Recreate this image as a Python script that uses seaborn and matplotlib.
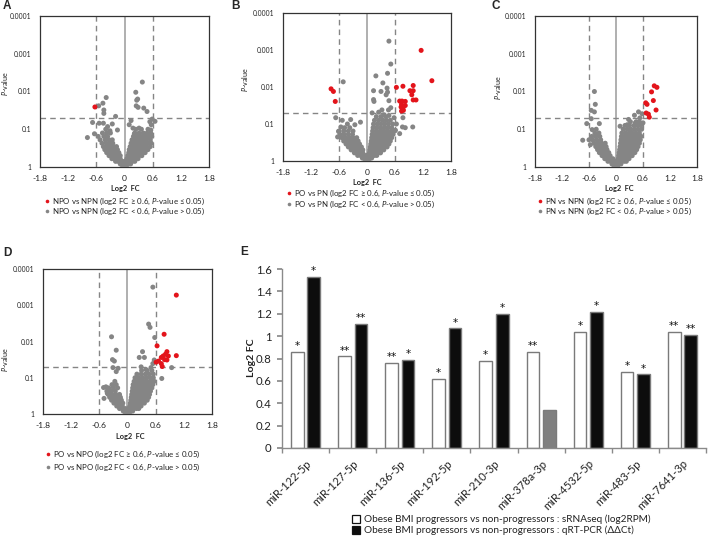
import numpy as np
import pandas as pd
import matplotlib
matplotlib.use("Agg")
import matplotlib.pyplot as plt
import seaborn as sns
from matplotlib.lines import Line2D
from matplotlib.ticker import NullLocator, FixedLocator
from matplotlib.transforms import ScaledTranslation

sns.set_theme(style="white")
plt.rcParams["font.family"] = ["Lato", "DejaVu Sans"]
plt.rcParams["mathtext.fontset"] = "custom"
plt.rcParams["mathtext.it"] = "Lato:italic"
plt.rcParams["mathtext.rm"] = "Lato"
plt.rcParams["mathtext.bf"] = "Lato:bold"

W, H = 709, 543
GRAY = "#858585"
RED = "#e3141b"

# ---------------- volcano data (log2 FC, -log10 P) ----------------
# Panel A : NPO vs NPN
a_levels = [0.02, 0.08, 0.15, 0.22, 0.30, 0.38, 0.46, 0.54, 0.63, 0.72, 0.81, 0.90, 1.00]
a_rows = [
    [-0.04, 0.0, 0.04],
    [-0.09, -0.04, 0.0, 0.04, 0.09, 0.13],
    [-0.19, -0.14, -0.09, -0.04, 0.02, 0.07, 0.12, 0.17, 0.22],
    [-0.27, -0.21, -0.15, -0.09, 0.05, 0.11, 0.17, 0.23, 0.29],
    [-0.33, -0.27, -0.21, -0.15, -0.09, 0.07, 0.13, 0.19, 0.25, 0.31, 0.37],
    [-0.38, -0.31, -0.25, -0.18, -0.12, 0.09, 0.15, 0.21, 0.27, 0.33, 0.39, 0.44],
    [-0.42, -0.35, -0.28, -0.21, -0.15, 0.10, 0.17, 0.23, 0.30, 0.36, 0.42, 0.50],
    [-0.45, -0.37, -0.30, -0.23, -0.17, 0.12, 0.19, 0.26, 0.33, 0.40, 0.47, 0.55],
    [-0.48, -0.39, -0.31, -0.25, 0.14, 0.21, 0.28, 0.35, 0.42, 0.50, 0.57],
    [-0.52, -0.41, -0.33, -0.26, 0.16, 0.24, 0.31, 0.38, 0.46, 0.55],
    [-0.56, -0.44, -0.36, 0.19, 0.27, 0.35, 0.43, 0.51, 0.58],
    [-0.47, -0.38, -0.30, 0.22, 0.31, 0.40, 0.48, 0.56],
    [-0.40, 0.24, 0.36, 0.50],
]
a_out = [(0.38, 2.25), (0.24, 1.98), (0.28, 1.80), (0.26, 1.77), (0.25, 1.62), (0.29, 1.58),
         (0.41, 1.56), (0.48, 1.47), (-0.39, 1.84), (-0.46, 1.69), (-0.55, 1.62), (-0.44, 1.51),
         (-0.44, 1.42), (-0.19, 1.34), (0.59, 1.27), (0.65, 1.21), (0.54, 1.20), (0.14, 1.23),
         (-0.68, 1.18), (-0.54, 1.16), (-0.45, 1.16), (-0.26, 1.14), (-0.79, 0.78), (-0.64, 0.88),
         (-0.36, 1.07), (-0.31, 0.96), (-0.15, 0.98), (0.10, 1.12), (0.18, 1.03), (0.57, 1.12),
         (0.56, 0.98), (0.49, 0.81), (0.42, 0.72), (0.31, 1.03), (0.21, 0.88)]
a_red = [(-0.63, 1.59)]

# Panel B : PO vs PN
b_levels = [0.02, 0.08, 0.15, 0.22, 0.30, 0.38, 0.46, 0.54, 0.63, 0.72, 0.81, 0.90, 1.00, 1.10, 1.20, 1.25]
b_rows = [
    [-0.04, 0.0, 0.04],
    [-0.10, -0.05, 0.0, 0.05, 0.10],
    [-0.20, -0.14, -0.08, -0.02, 0.04, 0.10, 0.16, 0.21],
    [-0.27, -0.21, -0.15, -0.09, 0.05, 0.11, 0.17, 0.23, 0.29],
    [-0.34, -0.27, -0.21, -0.15, -0.09, 0.06, 0.12, 0.18, 0.24, 0.30, 0.36],
    [-0.40, -0.33, -0.26, -0.19, -0.12, 0.07, 0.13, 0.19, 0.25, 0.31, 0.37, 0.43],
    [-0.45, -0.38, -0.31, -0.24, -0.16, 0.08, 0.14, 0.20, 0.27, 0.33, 0.40, 0.47],
    [-0.50, -0.42, -0.34, -0.27, -0.19, 0.09, 0.15, 0.22, 0.29, 0.36, 0.43, 0.50],
    [-0.54, -0.46, -0.38, -0.30, -0.22, 0.10, 0.17, 0.24, 0.31, 0.38, 0.45, 0.53],
    [-0.58, -0.49, -0.40, -0.31, 0.11, 0.18, 0.26, 0.33, 0.40, 0.48, 0.56],
    [-0.60, -0.50, -0.40, -0.30, 0.12, 0.20, 0.28, 0.36, 0.44, 0.52, 0.59],
    [-0.48, -0.37, 0.13, 0.21, 0.29, 0.37, 0.45, 0.53],
    [-0.42, 0.14, 0.22, 0.30, 0.38, 0.46, 0.55],
    [0.16, 0.25, 0.34, 0.42, 0.50],
    [0.20, 0.30, 0.40],
    [0.36],
]
b_out = [(0.47, 3.24), (0.51, 2.62), (0.44, 2.37), (0.19, 2.30), (-0.51, 2.14), (0.34, 2.11),
         (0.14, 1.90), (0.30, 1.88), (0.43, 1.97), (0.44, 1.86), (0.41, 1.79), (0.14, 1.66),
         (0.15, 1.61), (0.47, 1.63), (0.51, 1.44), (0.46, 1.38), (0.32, 1.38), (0.25, 1.32),
         (0.11, 1.30), (-0.67, 1.17), (0.77, 1.17), (0.76, 0.92), (0.70, 0.74), (0.61, 0.83),
         (0.98, 0.92), (0.82, 0.90), (0.58, 1.17), (0.63, 1.00), (0.47, 1.23), (-0.53, 1.10),
         (-0.35, 1.12), (-0.26, 0.98), (-0.56, 0.92), (-0.61, 0.80), (-0.63, 0.65), (-0.14, 1.05)]
b_red = [(1.16, 2.99), (1.39, 2.17), (-0.77, 1.95), (-0.72, 1.88), (-0.68, 1.61), (0.63, 1.99),
         (0.77, 2.02), (0.99, 2.04), (0.99, 1.90), (0.92, 1.90), (0.96, 1.79), (0.99, 1.65),
         (1.05, 1.65), (0.70, 1.62), (0.75, 1.62), (0.82, 1.61), (0.74, 1.53), (0.82, 1.50),
         (0.73, 1.46), (0.77, 1.41), (0.74, 1.35), (0.78, 1.37)]

# Panel C : PN vs NPN
c_levels = [0.02, 0.08, 0.15, 0.22, 0.30, 0.38, 0.46, 0.54, 0.63, 0.72, 0.81, 0.90, 1.00, 1.10, 1.20]
c_rows = [
    [-0.04, 0.0, 0.04],
    [-0.09, -0.04, 0.01, 0.06, 0.11],
    [-0.18, -0.12, -0.06, 0.0, 0.06, 0.12, 0.18, 0.23],
    [-0.25, -0.19, -0.13, -0.07, 0.05, 0.11, 0.17, 0.23, 0.29],
    [-0.31, -0.25, -0.19, -0.13, 0.06, 0.12, 0.18, 0.24, 0.30, 0.36],
    [-0.37, -0.30, -0.23, -0.16, 0.07, 0.13, 0.19, 0.25, 0.31, 0.37, 0.42],
    [-0.41, -0.34, -0.27, -0.20, 0.08, 0.14, 0.20, 0.27, 0.33, 0.39, 0.46],
    [-0.45, -0.37, -0.29, -0.22, 0.09, 0.15, 0.22, 0.29, 0.35, 0.42, 0.49],
    [-0.49, -0.40, -0.32, -0.24, 0.10, 0.17, 0.24, 0.31, 0.38, 0.45, 0.52],
    [-0.52, -0.43, -0.34, 0.11, 0.18, 0.25, 0.32, 0.39, 0.46, 0.54],
    [-0.54, -0.45, -0.36, 0.12, 0.19, 0.27, 0.34, 0.41, 0.49, 0.56],
    [-0.47, -0.38, 0.13, 0.21, 0.29, 0.36, 0.44, 0.52],
    [-0.44, 0.16, 0.25, 0.33, 0.41, 0.49, 0.57],
    [0.20, 0.30, 0.40, 0.48, 0.55],
    [0.32, 0.45, 0.52],
]
c_out = [(-0.48, 2.00), (-0.46, 1.66), (-0.55, 1.50), (-0.48, 1.46), (-0.65, 1.15), (-0.55, 1.28),
         (-0.74, 0.71), (-0.37, 1.15), (0.50, 1.46), (0.58, 1.41), (0.41, 1.37), (0.53, 1.30),
         (0.28, 1.26), (0.09, 1.08), (0.25, 1.12), (0.60, 1.17), (0.43, 1.17), (-0.53, 0.99),
         (-0.43, 0.86), (-0.60, 0.72), (-0.57, 0.59)]
c_red = [(0.85, 2.15), (0.91, 2.11), (0.79, 1.99), (0.83, 1.76), (0.66, 1.70), (0.69, 1.66),
         (0.89, 1.51), (0.67, 1.43), (0.72, 1.40), (0.74, 1.32)]

# Panel D : PO vs NPO
d_levels = [0.02, 0.08, 0.15, 0.22, 0.30, 0.38, 0.46, 0.54, 0.63, 0.72, 0.81, 0.90, 1.00, 1.10, 1.20]
d_rows = [
    [-0.04, 0.0, 0.04],
    [-0.09, -0.04, 0.01, 0.06, 0.11],
    [-0.17, -0.11, -0.05, 0.01, 0.07, 0.13, 0.19, 0.24],
    [-0.23, -0.17, -0.11, 0.05, 0.11, 0.17, 0.23, 0.29],
    [-0.29, -0.23, -0.16, -0.10, 0.06, 0.12, 0.18, 0.24, 0.30, 0.36],
    [-0.34, -0.27, -0.20, -0.13, 0.07, 0.13, 0.19, 0.25, 0.31, 0.37, 0.42],
    [-0.38, -0.30, -0.22, -0.15, 0.08, 0.14, 0.20, 0.26, 0.32, 0.38, 0.45],
    [-0.41, -0.33, -0.25, -0.17, 0.09, 0.15, 0.21, 0.28, 0.34, 0.40, 0.47],
    [-0.44, -0.35, -0.26, 0.10, 0.16, 0.23, 0.29, 0.35, 0.42, 0.49],
    [-0.40, -0.30, -0.21, 0.11, 0.17, 0.24, 0.31, 0.38, 0.45, 0.52],
    [-0.33, -0.24, 0.12, 0.19, 0.26, 0.33, 0.40, 0.47, 0.54],
    [-0.27, 0.14, 0.21, 0.28, 0.35, 0.42, 0.50, 0.57],
    [0.16, 0.24, 0.32, 0.40, 0.48, 0.55],
    [0.20, 0.29, 0.38, 0.46, 0.55],
    [0.30, 0.42, 0.52],
]
d_out = [(0.54, 3.50), (0.45, 2.48), (0.48, 2.39), (-0.34, 2.13), (-0.24, 1.76), (0.58, 2.11),
         (0.32, 1.72), (0.25, 1.56), (0.36, 1.56), (-0.32, 1.50), (-0.28, 1.46), (-0.20, 1.26),
         (-0.31, 1.28), (-0.24, 1.17), (0.29, 1.30), (0.94, 1.28), (0.73, 0.98), (-0.51, 0.73),
         (-0.46, 0.75), (-0.43, 0.57), (-0.50, 0.43), (0.54, 1.39), (0.50, 1.28), (0.39, 1.23),
         (0.57, 1.49)]
d_red = [(1.04, 3.28), (0.78, 2.20), (0.63, 1.88), (0.84, 1.72), (0.81, 1.65), (0.76, 1.60),
         (0.87, 1.60), (1.04, 1.61), (0.72, 1.56), (0.79, 1.50), (0.84, 1.49), (0.66, 1.46),
         (0.61, 1.43), (0.72, 1.39), (0.74, 1.31)]

x_ticks = [-1.8, -1.2, -0.6, 0, 0.6, 1.2, 1.8]
x_tick_labels = ["-1.8", "-1.2", "-0.6", "0", "0.6", "1.2", "1.8"]
p_ticks = [1, 0.1, 0.01, 0.001, 0.0001]
p_tick_labels = ["1", "0.1", "0.01", "0.001", "0.0001"]

# ---------------- bar chart data (panel E) ----------------
mirnas = ["miR-122-5p", "miR-127-5p", "miR-136-5p", "miR-192-5p", "miR-210-3p",
          "miR-378a-3p", "miR-4532-5p", "miR-483-5p", "miR-7641-3p"]
seq_fc = [0.86, 0.82, 0.76, 0.62, 0.78, 0.86, 1.04, 0.68, 1.04]
pcr_fc = [1.53, 1.11, 0.79, 1.07, 1.20, 0.34, 1.22, 0.66, 1.01]
seq_sig = ["*", "**", "**", "*", "*", "**", "*", "*", "**"]
pcr_sig = ["*", "**", "*", "*", "*", "", "*", "*", "**"]
methods = ["Obese BMI progressors vs non-progressors : sRNAseq (log2RPM)",
           "Obese BMI progressors vs non-progressors : qRT-PCR (\u0394\u0394Ct)"]
e_ticks = [0, 0.2, 0.4, 0.6, 0.8, 1.0, 1.2, 1.4, 1.6]

fig = plt.figure(figsize=(W / 100, H / 100), dpi=100)
renderer = fig.canvas.get_renderer()


def fit_size(s, target_px, base=10.0, **kw):
    t = fig.text(0, 0, s, fontsize=base, **kw)
    w = t.get_window_extent(renderer).width
    t.remove()
    return base * target_px / w


LEG_FS = fit_size("NPO vs NPN (log2 FC \u2265 0.6, $\\it{P}$-value \u2264 0.05)", 153)
TICK_FS = fit_size("0.0001", 21)
XTICK_FS = fit_size("-1.8", 15)
XLAB_FS = fit_size("Log2  FC", 29, fontweight="bold")
YLAB_FS = fit_size("$\\it{P}$-value", 24)
E_LEG_FS = fit_size(methods[0], 287)
E_CAT_FS = fit_size("miR-122-5p", 60)
E_TICK_FS = fit_size("1.4", 16)


def rect(l, t, r, b):
    return [l / W, 1 - b / H, (r - l) / W, (b - t) / H]


def ftext(x, y, s, **kw):
    fig.text(x / W, 1 - y / H, s, **kw)


def volcano(box, levels, rows, out, red, comp, ylab_xy, xlab_xy, leg):
    ax = fig.add_axes(rect(*box))
    gx = [x for lv, xs in zip(levels, rows) for x in xs] + [o[0] for o in out]
    gy = [lv for lv, xs in zip(levels, rows) for x in xs] + [o[1] for o in out]
    rx = [p[0] for p in red]
    ry = [p[1] for p in red]
    df = pd.DataFrame({
        "fc": gx + rx,
        "p": 10.0 ** (-np.array(gy + ry)),
        "grp": ["ns"] * len(gx) + ["sig"] * len(rx),
    })
    ax.axvline(0, color="#a9a9a9", lw=1.3, zorder=1)
    for xv in (-0.6, 0.6):
        ax.axvline(xv, color="#858585", lw=1.0, ls=(0, (4, 3)), zorder=1)
    ax.axhline(0.05, color="#858585", lw=1.0, ls=(0, (4, 3)), zorder=1)
    sns.scatterplot(data=df, x="fc", y="p", hue="grp", palette={"ns": GRAY, "sig": RED},
                    s=13, linewidth=0, legend=False, ax=ax, zorder=3)
    ax.set_yscale("log")
    ax.set_ylim(1, 1e-4)
    ax.set_xlim(-1.8, 1.8)
    ax.yaxis.set_major_locator(FixedLocator(p_ticks))
    ax.set_yticklabels(p_tick_labels)
    ax.yaxis.set_minor_locator(NullLocator())
    ax.set_xticks(x_ticks)
    ax.set_xticklabels(x_tick_labels)
    ax.tick_params(axis="y", length=0, labelsize=TICK_FS, pad=6, colors="#222222")
    ax.tick_params(axis="x", length=2, direction="in", labelsize=XTICK_FS, pad=6,
                   colors="#666666", labelcolor="#222222")
    ax.set_xlabel("")
    ax.set_ylabel("")
    for sp in ax.spines.values():
        sp.set_color("#333333")
        sp.set_linewidth(0.9)
    ftext(*ylab_xy, "$\\it{P}$-value", rotation=90, ha="center", va="center", fontsize=YLAB_FS,
          color="#222222")
    ftext(*xlab_xy, "Log2  FC", ha="center", va="center", fontsize=XLAB_FS, fontweight="bold",
          color="#222222")
    dx, y1, y2 = leg
    lbls = [comp + " (log2 FC \u2265 0.6, $\\it{P}$-value \u2264 0.05)",
            comp + " (log2 FC < 0.6, $\\it{P}$-value > 0.05)"]
    for yy, col, lb in zip((y1, y2), (RED, GRAY), lbls):
        fig.add_artist(Line2D([dx / W], [1 - yy / H], marker="o", ms=2.6, ls="",
                              color=col, mec="none", transform=fig.transFigure))
        ftext(dx + 5, yy, lb, ha="left", va="center", fontsize=LEG_FS, color="#222222")
    return ax


volcano((40, 16, 209, 167), a_levels, a_rows, a_out, a_red, "NPO vs NPN",
        (5, 84), (125, 189), (47, 201, 211))
volcano((283, 13, 451, 161), b_levels, b_rows, b_out, b_red, "PO vs PN",
        (245, 80), (367, 183), (289, 193, 204))
volcano((535, 16, 697, 167), c_levels, c_rows, c_out, c_red, "PN vs NPN",
        (498, 88), (619, 188), (540, 201, 211))
volcano((43, 269, 212, 414), d_levels, d_rows, d_out, d_red, "PO vs NPO",
        (5, 360), (130, 437), (48, 454, 467))

for lx, ly, s in [(3, 6, "A"), (231, 6, "B"), (491, 6, "C"), (3, 253, "D"), (240, 252, "E")]:
    ftext(lx, ly, s, ha="left", va="center", fontsize=8.5, fontweight="bold",
          family=["Liberation Sans", "DejaVu Sans"])

# ---------------- panel E ----------------
axe = fig.add_axes(rect(282, 269, 706, 448))
df_e = pd.DataFrame({
    "mirna": mirnas * 2,
    "fc": seq_fc + pcr_fc,
    "method": [methods[0]] * len(mirnas) + [methods[1]] * len(mirnas),
})
sns.barplot(data=df_e, x="mirna", y="fc", hue="method", hue_order=methods,
            palette=["white", "#0d0d0d"], width=0.7, gap=0.23, edgecolor="#7a7a7a",
            linewidth=1.0, legend=False, ax=axe, err_kws={"linewidth": 0})
# non-significant qRT-PCR bar drawn in gray
for bar, sig in zip(axe.containers[1], pcr_sig):
    if sig == "":
        bar.set_facecolor("#7f7f7f")
for cont, sigs in zip(axe.containers, (seq_sig, pcr_sig)):
    for bar, sig in zip(cont, sigs):
        if sig:
            axe.text(bar.get_x() + bar.get_width() / 2, bar.get_height() + 0.005, sig,
                     ha="center", va="bottom", fontsize=7.5, color="#111111",
                     family=["DejaVu Sans"])
axe.set_xlim(-0.5, len(mirnas) - 0.5)
axe.set_ylim(0, 1.6)
axe.set_yticks(e_ticks)
axe.set_yticklabels([f"{v:g}" for v in e_ticks])
axe.set_xticks(range(len(mirnas)))
axe.set_xticklabels(mirnas, rotation=45, ha="right", va="top", rotation_mode="anchor")
shift = ScaledTranslation(7 / 100, 0, fig.dpi_scale_trans)
for lbl in axe.get_xticklabels():
    lbl.set_transform(lbl.get_transform() + shift)
axe.xaxis.set_minor_locator(FixedLocator(np.arange(-0.5, len(mirnas), 1.0)))
axe.tick_params(axis="x", which="major", length=0, labelsize=E_CAT_FS, pad=7, labelcolor="#222222")
axe.tick_params(axis="x", which="minor", length=3.5, direction="out", color="#8a8a8a", bottom=True)
axe.tick_params(axis="y", length=3.5, direction="out", color="#8a8a8a", labelsize=E_TICK_FS, pad=4,
                left=True, labelcolor="#222222")
for sp in ("top", "right"):
    axe.spines[sp].set_visible(False)
for sp in ("left", "bottom"):
    axe.spines[sp].set_color("#8a8a8a")
    axe.spines[sp].set_linewidth(1.0)
axe.set_xlabel("")
axe.set_ylabel("")
ftext(252, 358, "Log2 FC", rotation=90, ha="center", va="center", fontsize=E_TICK_FS * 0.92,
      fontweight="bold", color="#222222")

for yy, fc, lb in zip((519, 530), ("white", "#0d0d0d"), methods):
    fig.add_artist(Line2D([356 / W], [1 - yy / H], marker="s", ms=6, ls="", mfc=fc,
                          mec="#111111", mew=0.9, transform=fig.transFigure))
    ftext(364, yy, lb, ha="left", va="center", fontsize=E_LEG_FS, color="#222222")

fig.savefig("out.png", dpi=100)
